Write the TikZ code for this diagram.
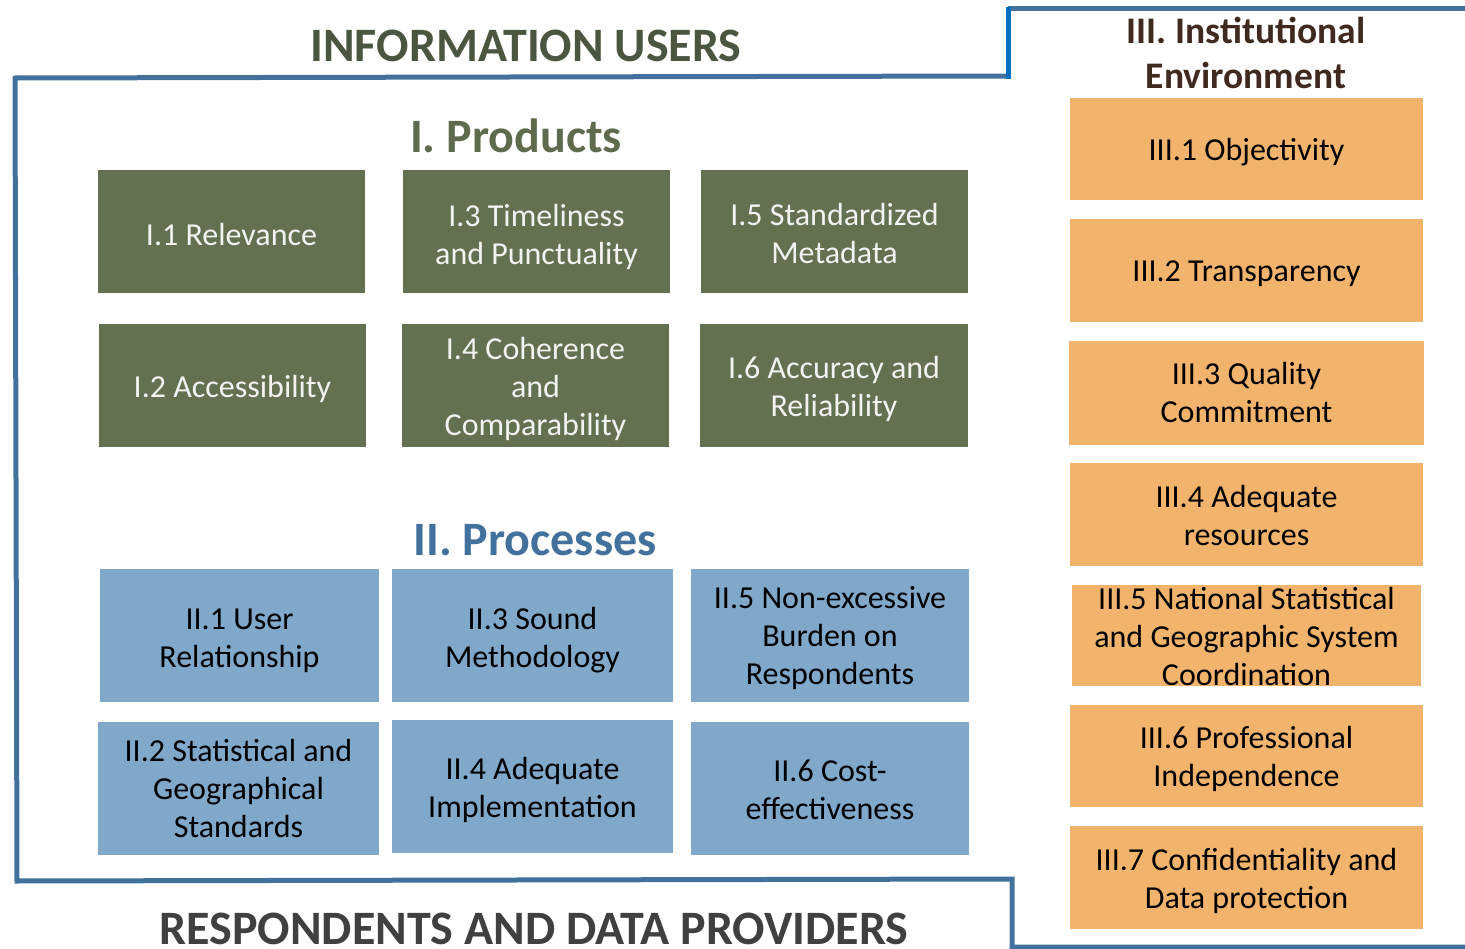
\documentclass[tikz,border=0pt]{standalone}
\usepackage{fontspec}
\setmainfont{Carlito}
\definecolor{lineblue}{HTML}{41719C}
\definecolor{brightblue}{HTML}{0070C0}
\definecolor{gfill}{HTML}{637150}
\definecolor{bfill}{HTML}{7FA8CB}
\definecolor{ofill}{HTML}{F2B46C}
\definecolor{tgreen}{HTML}{4B5640}
\definecolor{tprod}{HTML}{5E6B4C}
\definecolor{tproc}{HTML}{41719C}
\definecolor{tinst}{HTML}{40291F}
\definecolor{tresp}{HTML}{404040}
\definecolor{gtext}{HTML}{F2F2F2}
\tikzset{
  frameline/.style={draw=lineblue, line width=5pt},
  brightline/.style={draw=brightblue, line width=5pt},
  boxbase/.style={inner sep=0pt, outer sep=0pt, draw=none},
  boxtext/.style={align=center, font=\fontsize{32}{38}\selectfont, inner sep=0pt, yshift=-3pt},
  gbox/.style={boxbase, fill=gfill, minimum width=267pt, minimum height=123pt},
  gtxt/.style={boxtext, text=gtext},
  bbox/.style={boxbase, fill=bfill, minimum width=280pt, minimum height=133pt},
  btxt/.style={boxtext, text=black},
  obox/.style={boxbase, fill=ofill, minimum width=353pt, minimum height=102pt},
  otxt/.style={boxtext, text=black},
  titlebig/.style={font=\fontsize{48}{56}\selectfont\bfseries, anchor=base, inner sep=0pt},
  titlesmall/.style={font=\fontsize{37.5}{45}\selectfont\bfseries, anchor=base, inner sep=0pt, text=tinst},
}
\begin{document}
\begin{tikzpicture}[x=1pt, y=-1pt]
\useasboundingbox (0,0) rectangle (1465,949);
% frame
\coordinate (f1) at (15,78);
\coordinate (f2) at (1008,76);
\coordinate (f3) at (1008,79);
\coordinate (f4) at (1008,7);
\coordinate (f5) at (1008,9);
\coordinate (f6) at (1466,9);
\coordinate (f7) at (15,76);
\coordinate (f8) at (17,881);
\coordinate (f9) at (1012,879);
\coordinate (f10) at (1012,947);
\coordinate (f11) at (1466,947);
\draw[frameline] (f1) -- (f2);
\draw[frameline] (f5) -- (f6);
\draw[brightline] (f3) -- (f4);
\draw[frameline] (f7) -- (f8) -- (f9) -- (f10) -- (f11);
% titles
\node[titlebig, text=tgreen] (tusers) at (526,62) {INFORMATION USERS};
\node[titlebig, text=tprod] (tprodn) at (516,153) {I. Products};
\node[titlebig, text=tproc] (tprocn) at (535,555) {II. Processes};
\node[titlesmall] (tinst1) at (1246,44) {III. Institutional};
\node[titlesmall] (tinst2) at (1246,89) {Environment};
\node[titlebig, text=tresp] (tresp) at (534,944) {RESPONDENTS AND DATA PROVIDERS};
% products
\node[gbox, label={[gtxt]center:I.1 Relevance}] (p1) at (231.5,232) {};
\node[gbox, label={[gtxt, yshift=-2pt]center:{I.3 Timeliness\\and Punctuality}}] (p3) at (536.5,231.5) {};
\node[gbox, label={[gtxt, yshift=1pt]center:{I.5 Standardized\\Metadata}}] (p5) at (834.5,231.5) {};
\node[gbox, label={[gtxt]center:I.2 Accessibility}] (p2) at (232.5,385.5) {};
\node[gbox, label={[gtxt]center:{I.4 Coherence\\and\\Comparability}}] (p4) at (535.5,385.5) {};
\node[gbox, minimum width=268pt, label={[gtxt]center:{I.6 Accuracy and\\Reliability}}] (p6) at (834,385.5) {};
% processes
\node[bbox, minimum width=279pt, label={[btxt, yshift=-2pt]center:{II.1 User\\Relationship}}] (q1) at (239.5,635.5) {};
\node[bbox, minimum width=281pt, label={[btxt, yshift=-2pt]center:{II.3 Sound\\Methodology}}] (q3) at (532.5,635.5) {};
\node[bbox, minimum width=278pt, label={[btxt]center:{II.5 Non-excessive\\Burden on\\Respondents}}] (q5) at (830,635.5) {};
\node[bbox, minimum width=281pt, label={[btxt, yshift=3pt]center:{II.2 Statistical and\\Geographical\\Standards}}] (q2) at (238.5,788.5) {};
\node[bbox, minimum width=281pt, label={[btxt]center:{II.4 Adequate\\Implementation}}] (q4) at (532.5,786.5) {};
\node[bbox, minimum width=278pt, label={[btxt, yshift=2pt]center:{II.6 Cost-\\effectiveness}}] (q6) at (830,788.5) {};
% institutional
\node[obox, label={[otxt]center:III.1 Objectivity}] (r1) at (1246.5,149) {};
\node[obox, minimum height=103pt, label={[otxt]center:III.2 Transparency}] (r2) at (1246.5,270.5) {};
\node[obox, minimum width=355pt, minimum height=104pt, label={[otxt, yshift=3pt]center:{III.3 Quality\\Commitment}}] (r3) at (1246.5,393) {};
\node[obox, minimum height=103pt, label={[otxt, yshift=2pt]center:{III.4 Adequate\\resources}}] (r4) at (1246.5,514.5) {};
\node[obox, minimum width=349pt, minimum height=101pt, label={[otxt, yshift=2pt]center:{III.5 National Statistical\\and Geographic System\\Coordination}}] (r5) at (1246.5,635.5) {};
\node[obox, label={[otxt]center:{III.6 Professional\\Independence}}] (r6) at (1246.5,756) {};
\node[obox, minimum height=103pt, label={[otxt]center:{III.7 Confidentiality and\\Data protection}}] (r7) at (1246.5,877.5) {};
\end{tikzpicture}
\end{document}
